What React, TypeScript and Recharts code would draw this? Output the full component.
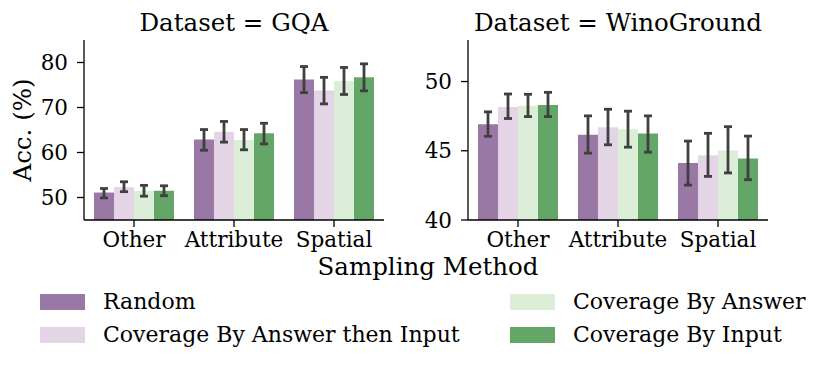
import React from 'react';
import { BarChart, Bar, XAxis, YAxis, ErrorBar } from 'recharts';

const categories = ['Other', 'Attribute', 'Spatial'];
const seriesNames = ['Random', 'Coverage By Answer then Input', 'Coverage By Answer', 'Coverage By Input'];
const seriesColors = ['#9a78a5', '#e4d5e6', '#dcedd8', '#64a568'];

// GQA
const gqaRandom = [51.1, 62.9, 76.2];
const gqaRandomLo = [49.9, 60.5, 73.3];
const gqaRandomHi = [52.0, 65.1, 79.1];
const gqaAnsInput = [52.3, 64.6, 73.8];
const gqaAnsInputLo = [51.3, 62.3, 70.8];
const gqaAnsInputHi = [53.5, 66.9, 76.7];
const gqaAnswer = [51.5, 62.8, 75.9];
const gqaAnswerLo = [50.3, 60.6, 72.9];
const gqaAnswerHi = [52.7, 65.1, 78.9];
const gqaInput = [51.5, 64.3, 76.7];
const gqaInputLo = [50.4, 61.9, 73.7];
const gqaInputHi = [52.6, 66.5, 79.7];

// WinoGround
const winoRandom = [46.91, 46.16, 44.12];
const winoRandomLo = [46.04, 44.83, 42.52];
const winoRandomHi = [47.81, 47.52, 45.7];
const winoAnsInput = [48.17, 46.7, 44.68];
const winoAnsInputLo = [47.33, 45.43, 43.15];
const winoAnsInputHi = [49.1, 48.0, 46.26];
const winoAnswer = [48.25, 46.55, 45.02];
const winoAnswerLo = [47.47, 45.26, 43.4];
const winoAnswerHi = [49.08, 47.86, 46.74];
const winoInput = [48.3, 46.24, 44.44];
const winoInputLo = [47.47, 44.9, 42.91];
const winoInputHi = [49.22, 47.52, 46.06];

const gqaTicks = [50, 60, 70, 80];
const winoTicks = [40, 45, 50];

type Triple = [number[], number[], number[]];

function buildTable(series: Triple[]) {
  return categories.map((cat, i) => {
    const row: Record<string, any> = { cat };
    series.forEach(([v, lo, hi], s) => {
      row['v' + s] = v[i];
      row['e' + s] = [v[i] - lo[i], hi[i] - v[i]];
    });
    return row;
  });
}

const gqaData = buildTable([
  [gqaRandom, gqaRandomLo, gqaRandomHi],
  [gqaAnsInput, gqaAnsInputLo, gqaAnsInputHi],
  [gqaAnswer, gqaAnswerLo, gqaAnswerHi],
  [gqaInput, gqaInputLo, gqaInputHi],
]);
const winoData = buildTable([
  [winoRandom, winoRandomLo, winoRandomHi],
  [winoAnsInput, winoAnsInputLo, winoAnsInputHi],
  [winoAnswer, winoAnswerLo, winoAnswerHi],
  [winoInput, winoInputLo, winoInputHi],
]);

const FONT = 'DejaVu Serif';
const TICK_FS = 21.5;
const LABEL_FS = 24.5;
const LEGEND_FS = 22;
const tickStyle = { fontFamily: FONT, fontSize: TICK_FS, fill: '#000' };

function Panel(props: {
  data: any[];
  domain: [number, number];
  ticks: number[];
  yWidth: number;
  rightMargin: number;
  yLabel?: string;
}) {
  const { data, domain, ticks, yWidth, rightMargin, yLabel } = props;
  return (
    <BarChart
      width={400}
      height={256}
      data={data}
      margin={{ top: 40, right: rightMargin, left: 0, bottom: 0 }}
      barCategoryGap="10%"
      barGap={0}
    >
      <XAxis
        dataKey="cat"
        height={36}
        tick={tickStyle}
        tickSize={7}
        tickMargin={5}
        axisLine={{ stroke: '#000', strokeWidth: 1.3 }}
        tickLine={{ stroke: '#000', strokeWidth: 1.3 }}
        interval={0}
      />
      <YAxis
        width={yWidth}
        domain={domain}
        ticks={ticks}
        allowDataOverflow
        tick={tickStyle}
        tickSize={7}
        tickMargin={9}
        axisLine={{ stroke: '#000', strokeWidth: 1.3 }}
        tickLine={{ stroke: '#000', strokeWidth: 1.3 }}
        label={
          yLabel
            ? (p: any) => {
                const vb = p.viewBox || {};
                const x = (vb.x || 0) + 22;
                const y = (vb.y || 0) + (vb.height || 0) / 2;
                return (
                  <text
                    x={x}
                    y={y}
                    transform={`rotate(-90 ${x} ${y})`}
                    textAnchor="middle"
                    dominantBaseline="central"
                    fontFamily={FONT}
                    fontSize={LABEL_FS}
                    fill="#000"
                  >
                    {yLabel}
                  </text>
                );
              }
            : undefined
        }
      />
      {seriesNames.map((name, s) => (
        <Bar key={name} dataKey={'v' + s} name={name} fill={seriesColors[s]} isAnimationActive={false}>
          <ErrorBar dataKey={'e' + s} direction="y" width={4} stroke="#404040" strokeWidth={2.8} />
        </Bar>
      ))}
    </BarChart>
  );
}

export default function App() {
  return (
    <div
      style={{
        position: 'fixed',
        left: 0,
        top: 0,
        width: 830,
        height: 369,
        background: '#fff',
        fontFamily: FONT,
        color: '#000',
      }}
    >
      <div style={{ position: 'absolute', left: 0, top: 0 }}>
        <Panel data={gqaData} domain={[45, 85]} ticks={gqaTicks} yWidth={84} rightMargin={16} yLabel="Acc. (%)" />
      </div>
      <div style={{ position: 'absolute', left: 400, top: 0 }}>
        <Panel data={winoData} domain={[40, 53]} ticks={winoTicks} yWidth={68} rightMargin={32} />
      </div>
      <div style={{ position: 'absolute', left: 34, width: 400, top: 8, textAlign: 'center', fontSize: LABEL_FS, lineHeight: '30px', whiteSpace: 'nowrap' }}>
        Dataset = GQA
      </div>
      <div style={{ position: 'absolute', left: 418, width: 400, top: 8, textAlign: 'center', fontSize: LABEL_FS, lineHeight: '30px', whiteSpace: 'nowrap' }}>
        Dataset = WinoGround
      </div>
      <div style={{ position: 'absolute', left: 228, width: 400, top: 257, height: 20, textAlign: 'center', fontSize: LABEL_FS, lineHeight: '20px', whiteSpace: 'nowrap' }}>
        Sampling Method
      </div>
      {seriesNames.map((name, s) => {
        const col = s === 0 || s === 1 ? 0 : 1;
        const row = s === 0 || s === 2 ? 0 : 1;
        const left = col === 0 ? 40 : 510;
        const top = row === 0 ? 288 : 321;
        return (
          <div key={name} style={{ position: 'absolute', left, top, height: 28, display: 'flex', alignItems: 'center', whiteSpace: 'nowrap' }}>
            <div style={{ width: 45, height: 16, background: seriesColors[s], marginRight: 18 }} />
            <span style={{ fontSize: LEGEND_FS, lineHeight: '28px' }}>{name}</span>
          </div>
        );
      })}
    </div>
  );
}
